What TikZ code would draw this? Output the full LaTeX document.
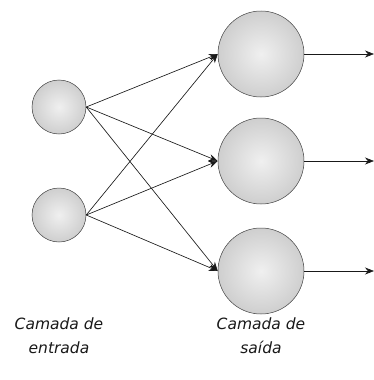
\documentclass[tikz,border=0pt]{standalone}
\usepackage{fontspec}
\setmainfont{DejaVu Sans}
\usetikzlibrary{arrows.meta}
\tikzset{
  neuron/.style={circle, draw=black!75, line width=0.5pt, shading=radial, inner color=gray!12, outer color=gray!38, inner sep=0pt},
  inp/.style={neuron, minimum size=54pt},
  outp/.style={neuron, minimum size=86pt},
  conn/.style={draw=black!90, line width=0.65pt, -{Stealth[length=9pt,width=7pt]}},
  lbl/.style={font=\itshape\fontsize{15.5}{24}\selectfont, align=center, text=black!90}
}
\begin{document}
\begin{tikzpicture}[x=1pt,y=-1pt]
\useasboundingbox (0,0) rectangle (373,380);
\node[inp] (i1) at (59,107) {};
\node[inp] (i2) at (59,215) {};
\node[outp] (o1) at (261,54) {};
\node[outp] (o2) at (261,161) {};
\node[outp] (o3) at (261,271) {};
\coordinate (e1) at (374,54);
\coordinate (e2) at (374,161);
\coordinate (e3) at (374,271);
\foreach \i in {i1,i2}{
  \foreach \o in {o1,o2,o3}{
    \draw[conn] (\i.east) -- (\o.west);
  }
}
\draw[conn] (o1.east) -- (e1);
\draw[conn] (o2.east) -- (e2);
\draw[conn] (o3.east) -- (e3);
\node[lbl] (t1) at (59,336) {Camada de\\entrada};
\node[lbl] (t2) at (261,336) {Camada de\\saída};
\end{tikzpicture}
\end{document}
